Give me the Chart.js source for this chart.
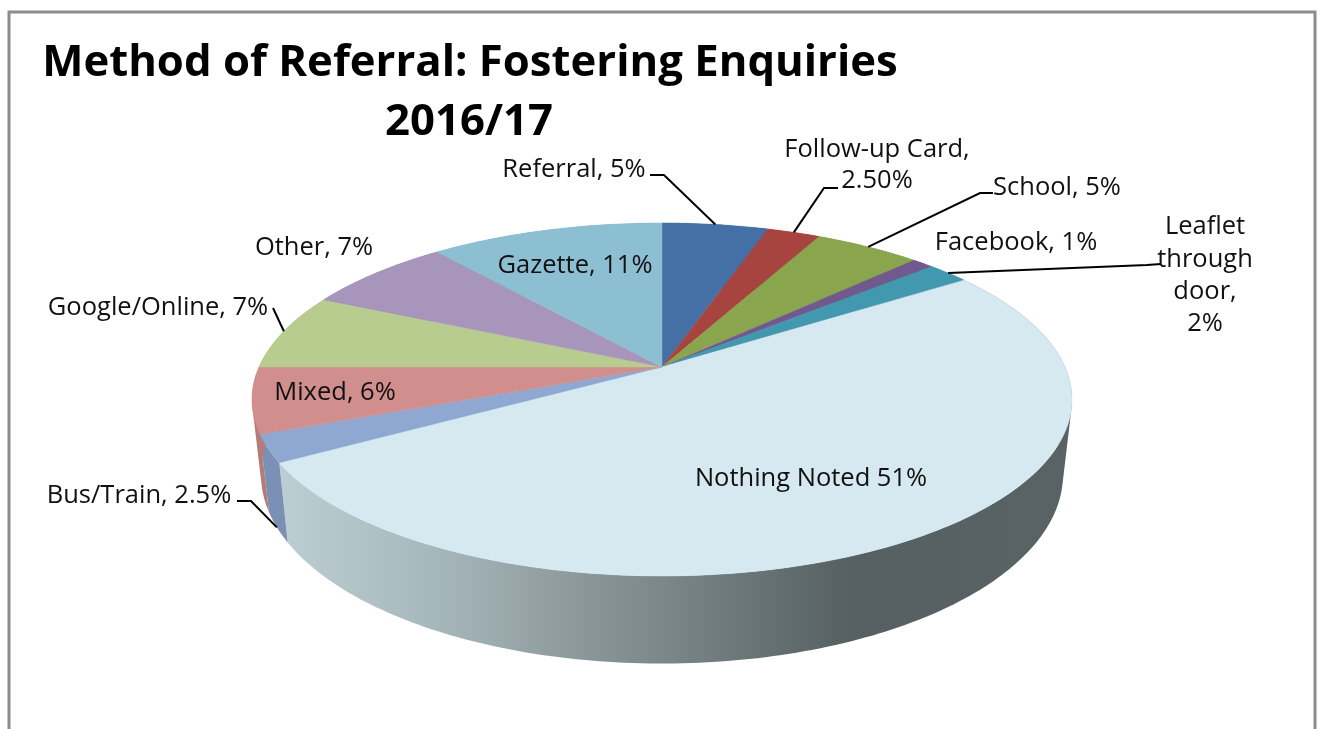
<!DOCTYPE html>
<html>
<head>
<meta charset="utf-8">
<title>Method of Referral: Fostering Enquiries 2016/17</title>
<script src="https://cdn.jsdelivr.net/npm/chart.js@4/dist/chart.umd.js"></script>
<style>
  html, body { margin: 0; padding: 0; background: #ffffff; overflow: hidden; }
  #wrap { position: relative; width: 1322px; height: 729px; }
</style>
</head>
<body>
<div id="wrap"><canvas id="pie" width="1322" height="729"></canvas></div>
<script>
// Chart data
const categories = ['Referral', 'Follow-up Card', 'School', 'Facebook', 'Leaflet through door',
    'Nothing Noted', 'Bus/Train', 'Mixed', 'Google/Online', 'Other', 'Gazette'];
const shares = [5, 2.5, 5, 1, 2, 51, 2.5, 6, 7, 7, 11];
const titleLines = ['Method of Referral: Fostering Enquiries', '2016/17'];
const labelLines = [
    ['Referral, 5%'],
    ['Follow-up Card,', '2.50%'],
    ['School, 5%'],
    ['Facebook, 1%'],
    ['Leaflet', 'through', 'door,', '2%'],
    ['Nothing Noted 51%'],
    ['Bus/Train, 2.5%'],
    ['Mixed, 6%'],
    ['Google/Online, 7%'],
    ['Other, 7%'],
    ['Gazette, 11%']
];

// Colours
const topColors = ['#4470a5', '#a8443f', '#89a54e', '#71588f', '#4198af', '#d7e9f0',
    '#8fa8d2', '#d08e8c', '#b9cc90', '#a795bb', '#8dbfd3'];
const sideColors = ['#3a5f8c', '#8f3a36', '#748c42', '#604b79', '#377f95', null,
    '#7a90b5', '#b47b79', '#9dae7a', '#8e7f9f', '#78a2b3'];

// Where the text sits: centre x, first line centre y
const labelPos = [
    [574, 170], [877, 150], [1057, 188], [1016, 243], [1205, 227],
    [811, 479], [139, 496], [335, 393], [158, 308], [314, 248], [575, 266]
];
const lineGap = [0, 31, 0, 0, 32.3, 0, 0, 0, 0, 0, 0];

// Perspective of the pie: centre of rotation, radii and foreshortening
const apexX = 662, apexY = 367;
const radiusX = 403, radiusY = 170.5, tilt = 0.184;
// Bottom rim relative to the top rim
const rimScaleX = 0.978, rimScaleY = 1.07, rimY = 440;

function topPoint(angle) {
    const u = Math.cos(angle), v = Math.sin(angle);
    const w = 1 - tilt * v;
    return [apexX + radiusX * u / w, apexY + radiusY * v / w];
}

function bottomPoint(angle) {
    const p = topPoint(angle);
    return [apexX + (p[0] - apexX) * rimScaleX, rimY + (p[1] - apexY) * rimScaleY];
}

function angleSteps(start, end) {
    const count = Math.max(2, Math.ceil((end - start) / (Math.PI / 180)));
    const steps = [];
    for (let i = 0; i <= count; i++) {
        steps.push(start + (end - start) * i / count);
    }
    return steps;
}

// Adds a four-point shape to the path, always wound the same way so the union has no seams
function addQuad(ctx, pts) {
    let area = 0;
    pts.forEach((p, i) => {
        const q = pts[(i + 1) % pts.length];
        area += p[0] * q[1] - q[0] * p[1];
    });
    const ordered = area < 0 ? pts.slice().reverse() : pts;
    ctx.moveTo(ordered[0][0], ordered[0][1]);
    ordered.slice(1).forEach(p => ctx.lineTo(p[0], p[1]));
    ctx.closePath();
}

// Draws the arcs computed by the pie controller in perspective
const perspectivePie = {
    id: 'perspectivePie',
    beforeDatasetsDraw(chart) {
        const ctx = chart.ctx;
        const arcs = chart.getDatasetMeta(0).data;

        ctx.save();
        const sideGradient = ctx.createLinearGradient(280, 0, 1070, 0);
        sideGradient.addColorStop(0, '#bdced3');
        sideGradient.addColorStop(0.18, '#a9babe');
        sideGradient.addColorStop(0.46, '#7f8b8e');
        sideGradient.addColorStop(0.72, '#566062');
        sideGradient.addColorStop(1, '#596264');

        // Wall first
        arcs.forEach((arc, i) => {
            const steps = angleSteps(arc.startAngle, arc.endAngle);
            ctx.fillStyle = sideColors[i] || sideGradient;
            ctx.beginPath();
            for (let s = 0; s < steps.length - 1; s++) {
                addQuad(ctx, [topPoint(steps[s]), topPoint(steps[s + 1]),
                    bottomPoint(steps[s + 1]), bottomPoint(steps[s])]);
            }
            ctx.fill();
        });

        // Top face
        arcs.forEach((arc, i) => {
            ctx.beginPath();
            ctx.moveTo(apexX, apexY);
            angleSteps(arc.startAngle, arc.endAngle).forEach(angle => {
                const p = topPoint(angle);
                ctx.lineTo(p[0], p[1]);
            });
            ctx.closePath();
            ctx.fillStyle = topColors[i];
            ctx.strokeStyle = topColors[i];
            ctx.lineWidth = 0.5;
            ctx.fill();
            ctx.stroke();
        });
        ctx.restore();
        return false;
    },
    afterDraw(chart) {
        const ctx = chart.ctx;
        const arcs = chart.getDatasetMeta(0).data;
        const midAngle = i => (arcs[i].startAngle + arcs[i].endAngle) / 2;

        ctx.save();

        // Outer frame, cut off by the bottom of the picture
        ctx.strokeStyle = '#8c8c8c';
        ctx.lineWidth = 3;
        ctx.beginPath();
        ctx.moveTo(9, 729);
        ctx.lineTo(9, 12);
        ctx.lineTo(1315, 12);
        ctx.lineTo(1315, 729);
        ctx.stroke();

        // Leader lines: from the label, via an elbow, to the slice edge
        const leaders = [
            [0, [650, 175], [664, 175], topPoint(midAngle(0))],
            [1, [838, 188], [824, 188], topPoint(midAngle(1))],
            [2, [993, 193], [980, 193], topPoint(midAngle(2))],
            [4, [1161, 264], [1147, 265], topPoint(midAngle(4))],
            [6, [237, 501], [251, 501], bottomPoint(midAngle(6))],
            [8, [273, 308], [273, 308], topPoint(midAngle(8))]
        ];
        ctx.strokeStyle = '#000000';
        ctx.lineWidth = 2;
        leaders.forEach(l => {
            ctx.beginPath();
            ctx.moveTo(l[1][0], l[1][1]);
            ctx.lineTo(l[2][0], l[2][1]);
            ctx.lineTo(l[3][0], l[3][1]);
            ctx.stroke();
        });

        // Labels
        ctx.fillStyle = '#111111';
        ctx.textAlign = 'center';
        ctx.textBaseline = 'middle';
        ctx.font = '25.5px "Open Sans"';
        labelLines.forEach((lines, i) => {
            lines.forEach((line, n) => {
                ctx.fillText(line, labelPos[i][0], labelPos[i][1] + n * lineGap[i]);
            });
        });

        // Title
        ctx.fillStyle = '#000000';
        ctx.font = 'bold 43.7px "Open Sans"';
        ctx.fillText(titleLines[0], 470, 64);
        ctx.fillText(titleLines[1], 469, 123);
        ctx.restore();
    }
};

new Chart(document.getElementById('pie').getContext('2d'), {
    type: 'pie',
    data: {
        labels: categories,
        datasets: [{
            data: shares,
            backgroundColor: topColors,
            borderWidth: 0
        }]
    },
    options: {
        responsive: false,
        animation: false,
        plugins: {
            legend: { display: false },
            tooltip: { enabled: false }
        }
    },
    plugins: [perspectivePie]
});
</script>
</body>
</html>
